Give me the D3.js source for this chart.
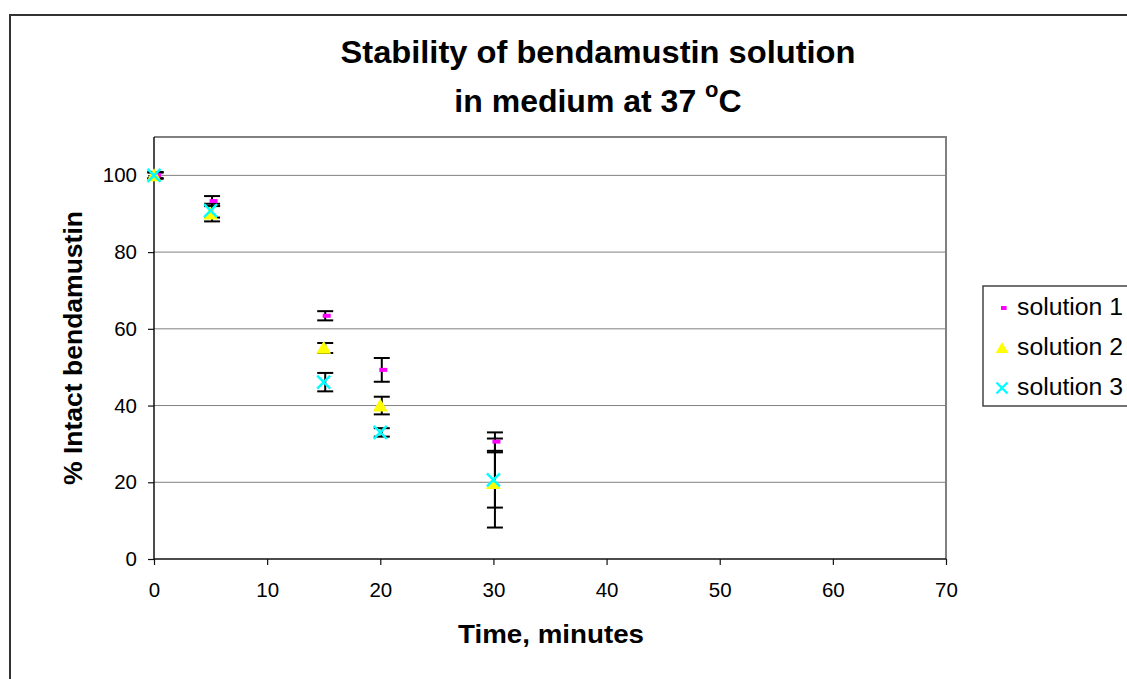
<!DOCTYPE html>
<html><head><meta charset="utf-8">
<script src="https://cdn.jsdelivr.net/npm/d3@7"></script>
<style>body{margin:0;background:#fff}svg{display:block}text{font-family:"Liberation Sans",Arial,sans-serif}</style>
</head><body><svg id="c" width="1127" height="679"></svg>
<script>
const times = [0, 5, 15, 20, 30];
const seriesNames = ["solution 1", "solution 2", "solution 3"];
const sol1 = [100, 93.3, 63.4, 49.3, 30.6];
const err1 = [0.8, 1.3, 1.2, 3.1, 2.4];
const sol2 = [100, 90.0, 55.0, 40.0, 19.8];
const err2 = [0.8, 2.0, 1.3, 2.3, 11.6];
const sol3 = [100, 90.8, 46.1, 33.0, 20.6];
const err3 = [0.8, 1.8, 2.4, 1.1, 7.2];
const xTicks = [0, 10, 20, 30, 40, 50, 60, 70];
const yTicks = [0, 20, 40, 60, 80, 100];
const colors = ["#ff00ff", "#ffff00", "#00ffff"];

const svg = d3.select("#c");
const L = 154, R = 946, T = 137, B = 559;
const x = d3.scaleLinear().domain([0, 70]).range([L, R]);
const y = d3.scaleLinear().domain([0, 110]).range([B, T]);

// outer chart border
svg.append("rect").attr("x", 10).attr("y", 15).attr("width", 1300).attr("height", 900)
  .attr("fill", "#fff").attr("stroke", "#333").attr("stroke-width", 2);

// gridlines
svg.append("g").selectAll("line").data(yTicks.filter(d => d > 0)).join("line")
  .attr("x1", L).attr("x2", R).attr("y1", d => y(d)).attr("y2", d => y(d))
  .attr("stroke", "#808080").attr("stroke-width", 1);
// plot area top/right border
svg.append("path").attr("d", `M${L},${T}H${R}V${B}`).attr("fill", "none")
  .attr("stroke", "#808080").attr("stroke-width", 2);

// axes
const xAxis = svg.append("g").attr("transform", `translate(0,${B})`)
  .call(d3.axisBottom(x).tickValues(xTicks).tickSize(6).tickPadding(17).tickFormat(d3.format("d")));
const yAxis = svg.append("g").attr("transform", `translate(${L},0)`)
  .call(d3.axisLeft(y).tickValues(yTicks).tickSize(6).tickPadding(11).tickFormat(d3.format("d")));
[xAxis, yAxis].forEach(a => {
  a.select(".domain").attr("stroke", "#111").attr("stroke-width", 1.5);
  a.selectAll(".tick line").attr("stroke", "#111").attr("stroke-width", 1.2);
  a.selectAll("text").attr("font-size", 20.5).attr("fill", "#000").attr("font-family", "Liberation Sans, Arial, sans-serif");
});
xAxis.select(".domain").attr("d", `M${L},0H${R}`);
yAxis.select(".domain").attr("d", `M0,${B}V${T}`);

// series
const series = [sol1, sol2, sol3].map((vals, i) => ({
  name: seriesNames[i], color: colors[i],
  pts: vals.map((v, j) => ({t: times[j], v, e: [err1, err2, err3][i][j]}))
}));

// error bars
const eg = svg.append("g").attr("stroke", "#000").attr("stroke-width", 2);
series.forEach(s => {
  s.pts.forEach(p => {
    const cx = x(p.t) + 1.5;
    eg.append("line").attr("x1", cx).attr("x2", cx).attr("y1", y(p.v + p.e)).attr("y2", y(p.v - p.e));
    [p.v + p.e, p.v - p.e].forEach(v => eg.append("line").attr("x1", cx - 8).attr("x2", cx + 8).attr("y1", y(v)).attr("y2", y(v)));
  });
});

function drawMarker(g, type, cx, cy, color, sc) {
  if (type === 0) {
    g.append("rect").attr("x", cx - 1).attr("y", cy - 2).attr("width", 8 * sc).attr("height", 4).attr("fill", color);
  } else if (type === 1) {
    const w = 7.5 * sc, h = 13 * sc;
    g.append("path").attr("d", `M${cx},${cy - h * 0.55}L${cx + w},${cy + h * 0.45}L${cx - w},${cy + h * 0.45}Z`).attr("fill", color);
  } else {
    const r = 6.5 * sc;
    g.append("path").attr("d", `M${cx - r},${cy - r}L${cx + r},${cy + r}M${cx - r},${cy + r}L${cx + r},${cy - r}`)
      .attr("stroke", color).attr("stroke-width", 2.4).attr("fill", "none");
  }
}
const mg = svg.append("g");
series.forEach((s, i) => s.pts.forEach(p => drawMarker(mg, i, x(p.t), y(p.v), s.color, 1)));

// titles
const title = svg.append("text").attr("text-anchor", "middle").attr("font-weight", "bold").attr("font-size", 32);
title.append("tspan").attr("x", 598).attr("y", 63).attr("textLength", 515).attr("lengthAdjust", "spacingAndGlyphs")
  .text("Stability of bendamustin solution");
const t2 = svg.append("text").attr("x", 598).attr("y", 112).attr("text-anchor", "middle").attr("font-weight", "bold").attr("font-size", 32);
t2.append("tspan").text("in medium at 37 ");
t2.append("tspan").attr("font-size", 22).attr("dy", -15).text("o");
t2.append("tspan").attr("dy", 15).text("C");

svg.append("text").attr("x", 551).attr("y", 643).attr("text-anchor", "middle")
  .attr("font-weight", "bold").attr("font-size", 26).attr("textLength", 186).attr("lengthAdjust", "spacingAndGlyphs")
  .text("Time, minutes");
svg.append("text").attr("transform", `translate(82,${(T + B) / 2}) rotate(-90)`).attr("text-anchor", "middle")
  .attr("font-weight", "bold").attr("font-size", 26).attr("textLength", 274).attr("lengthAdjust", "spacingAndGlyphs")
  .text("% Intact bendamustin");

// legend
svg.append("rect").attr("x", 983).attr("y", 286).attr("width", 300).attr("height", 120)
  .attr("fill", "#fff").attr("stroke", "#444").attr("stroke-width", 1.5);
const lg = svg.append("g");
series.forEach((s, i) => {
  const cy = 308 + i * 40;
  drawMarker(lg, i, 1002, cy, s.color, i === 0 ? 0.7 : 0.85);
  lg.append("text").attr("x", 1017).attr("y", cy + 7).attr("font-size", 23)
    .attr("textLength", 106).attr("lengthAdjust", "spacingAndGlyphs").text(s.name);
});
</script></body></html>
